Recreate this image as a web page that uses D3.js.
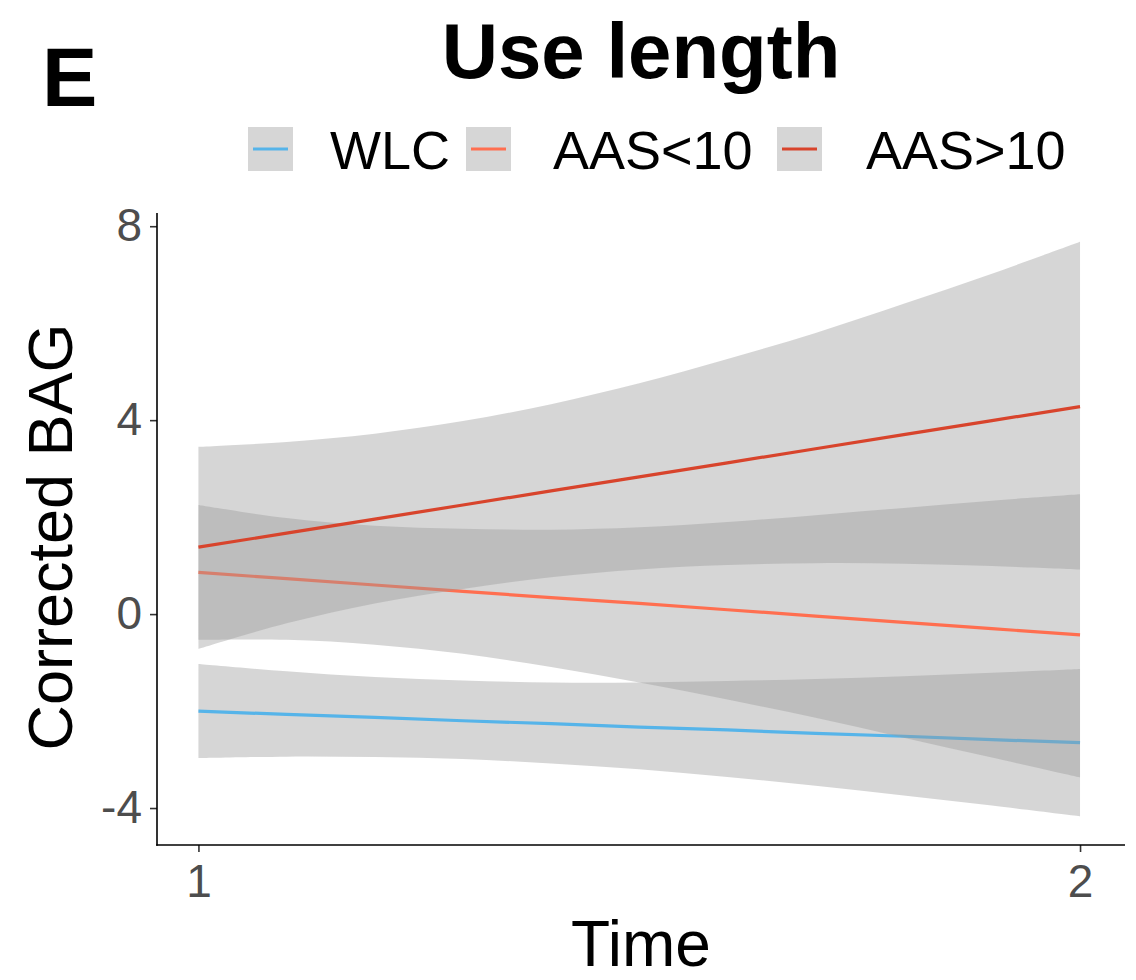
<!DOCTYPE html>
<html>
<head>
<meta charset="utf-8">
<script src="https://cdn.jsdelivr.net/npm/d3@7"></script>
<style>
  html, body { margin: 0; padding: 0; background: #ffffff; }
  svg { display: block; font-family: "Liberation Sans", Arial, Helvetica, sans-serif; }
</style>
</head>
<body>
<svg id="chart" width="1136" height="980"></svg>
<script>
// ---------------- data ----------------
const panelLabel = "E";
const chartTitle = "Use length";
const xTitle = "Time";
const yTitle = "Corrected BAG";
const groups = ["WLC", "AAS<10", "AAS>10"];
const groupColors = ["#56B4E9", "#FF6F50", "#D8442C"];
const xTicks = [1, 2];
const yTicks = [-4, 0, 4, 8];

const times = [1.0, 1.1, 1.2, 1.3, 1.4, 1.5, 1.6, 1.7, 1.8, 1.9, 2.0];

const wlcFit   = [-2.00, -2.07, -2.13, -2.20, -2.26, -2.33, -2.39, -2.46, -2.52, -2.59, -2.65];
const wlcLower = [-2.97, -2.94, -2.95, -2.99, -3.08, -3.20, -3.36, -3.54, -3.74, -3.95, -4.17];
const wlcUpper = [-1.03, -1.18, -1.30, -1.37, -1.41, -1.41, -1.38, -1.34, -1.28, -1.21, -1.13];

const aasLtFit   = [0.86, 0.73, 0.60, 0.47, 0.34, 0.22, 0.09, -0.04, -0.17, -0.30, -0.43];
const aasLtLower = [-0.53, -0.53, -0.63, -0.82, -1.09, -1.41, -1.76, -2.14, -2.55, -2.96, -3.37];
const aasLtUpper = [2.25, 1.98, 1.82, 1.76, 1.74, 1.79, 1.90, 2.04, 2.19, 2.34, 2.47];

const aasGtFit   = [1.38, 1.67, 1.96, 2.25, 2.54, 2.83, 3.12, 3.41, 3.70, 3.99, 4.28];
const aasGtLower = [-0.72, -0.19, 0.22, 0.52, 0.76, 0.92, 1.01, 1.05, 1.04, 0.99, 0.92];
const aasGtUpper = [3.45, 3.55, 3.72, 3.98, 4.33, 4.76, 5.26, 5.80, 6.40, 7.02, 7.68];

// ---------------- build series ----------------
const seriesFit = [wlcFit, aasLtFit, aasGtFit];
const seriesLow = [wlcLower, aasLtLower, aasGtLower];
const seriesUp  = [wlcUpper, aasLtUpper, aasGtUpper];
const series = groups.map((g, i) => ({
  name: g,
  color: groupColors[i],
  points: times.map((t, j) => ({ t, fit: seriesFit[i][j], lo: seriesLow[i][j], hi: seriesUp[i][j] }))
}));

// ---------------- layout ----------------
const svg = d3.select("#chart");
const panel = { left: 157, right: 1125, top: 213, bottom: 845 };

const allLo = d3.min(seriesLow.flat()), allHi = d3.max(seriesUp.flat());
const yPad = (allHi - allLo) * 0.05;
const x = d3.scaleLinear().domain([0.953, 2.051]).range([panel.left, panel.right]);
const y = d3.scaleLinear().domain([allLo - yPad, allHi + yPad]).range([panel.bottom, panel.top]);

const area = d3.area()
  .x(d => x(d.t)).y0(d => y(d.lo)).y1(d => y(d.hi))
  .curve(d3.curveCatmullRom.alpha(0.5));
const line = d3.line().x(d => x(d.t)).y(d => y(d.fit));

const plot = svg.append("g");
series.forEach(s => {
  plot.append("path").datum(s.points)
    .attr("d", area)
    .attr("fill", "#999999").attr("fill-opacity", 0.4).attr("stroke", "none");
  plot.append("path").datum(s.points)
    .attr("d", line)
    .attr("fill", "none").attr("stroke", s.color).attr("stroke-width", 3.2);
});

// ---------------- axes ----------------
const tickColor = "#333333";
const labelColor = "#4d4d4d";
const fmt = d => String(d);

const yAxis = svg.append("g").attr("transform", `translate(${panel.left},0)`)
  .call(d3.axisLeft(y).tickValues(yTicks).tickSize(7).tickPadding(8).tickFormat(fmt));
const xAxis = svg.append("g").attr("transform", `translate(0,${panel.bottom})`)
  .call(d3.axisBottom(x).tickValues(xTicks).tickSize(7).tickPadding(12).tickFormat(fmt));

[yAxis, xAxis].forEach(a => {
  a.select(".domain").remove();
  a.selectAll(".tick line").attr("stroke", tickColor).attr("stroke-width", 1.6);
  a.selectAll(".tick text").attr("fill", labelColor)
    .style("font-size", "46px").style("font-family", '"Liberation Sans", Arial, sans-serif');
});
// axis lines (theme_classic style)
svg.append("line").attr("x1", panel.left).attr("x2", panel.left)
  .attr("y1", panel.top).attr("y2", panel.bottom + 0.8)
  .attr("stroke", "#000").attr("stroke-width", 1.6);
svg.append("line").attr("x1", panel.left - 0.8).attr("x2", panel.right)
  .attr("y1", panel.bottom).attr("y2", panel.bottom)
  .attr("stroke", "#000").attr("stroke-width", 1.6);

// ---------------- titles ----------------
svg.append("text").text(panelLabel)
  .attr("x", 42).attr("y", 106)
  .attr("font-size", 83).attr("font-weight", "bold").attr("fill", "#000");

svg.append("text").text(chartTitle)
  .attr("x", 641).attr("y", 78).attr("text-anchor", "middle")
  .attr("font-size", 78).attr("font-weight", "bold").attr("fill", "#000");

svg.append("text").text(xTitle)
  .attr("x", (panel.left + panel.right) / 2).attr("y", 966).attr("text-anchor", "middle")
  .attr("font-size", 64).attr("fill", "#000");

svg.append("text").text(yTitle)
  .attr("transform", `translate(72,${(panel.top + panel.bottom) / 2 + 8}) rotate(-90)`)
  .attr("text-anchor", "middle")
  .attr("font-size", 63).attr("fill", "#000");

// ---------------- legend ----------------
const legendKeyX = [248, 466, 777];
const legendLabelX = [330, 553, 866];
const legend = svg.append("g");
groups.forEach((g, i) => {
  const kx = legendKeyX[i], ky = 127;
  legend.append("rect").attr("x", kx).attr("y", ky).attr("width", 45).attr("height", 44)
    .attr("fill", "#999999").attr("fill-opacity", 0.4);
  legend.append("line").attr("x1", kx + 5).attr("x2", kx + 40)
    .attr("y1", ky + 22).attr("y2", ky + 22)
    .attr("stroke", groupColors[i]).attr("stroke-width", 3.2);
  legend.append("text").text(g)
    .attr("x", legendLabelX[i]).attr("y", ky + 42)
    .attr("font-size", 54).attr("fill", "#000");
});
</script>
</body>
</html>
